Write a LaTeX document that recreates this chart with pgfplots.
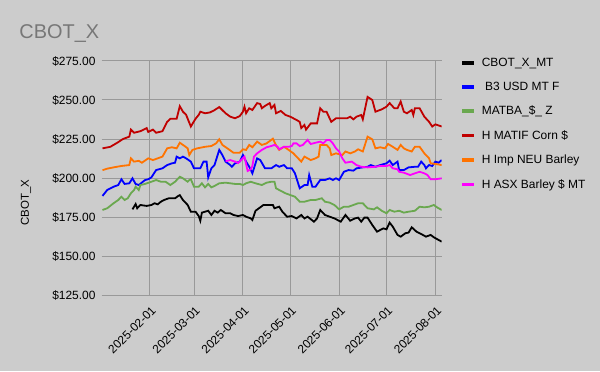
\documentclass[border=0pt]{standalone}
\usepackage{pgfplots}
\pgfplotsset{compat=1.18}
\usepackage{fontspec}
\setmainfont{Liberation Sans}
\definecolor{bg}{HTML}{CCCCCC}
\definecolor{titlegray}{HTML}{777777}
\definecolor{gridgray}{HTML}{999999}
\definecolor{sblue}{HTML}{0000FF}
\definecolor{sgreen}{HTML}{6AA84F}
\definecolor{sred}{HTML}{C00000}
\definecolor{sorange}{HTML}{FF7300}
\definecolor{smag}{HTML}{FF00FF}
\begin{document}
\begin{tikzpicture}[x=1bp,y=1bp]
\fill[bg] (0,0) rectangle (600,371);
\path[use as bounding box] (0,0) rectangle (600,371);
\node[anchor=base west, inner sep=0pt, text=titlegray, font=\fontsize{20}{24}\selectfont] at (19.3,332.7) {CBOT\_X};
\begin{axis}[
  at={(101.7bp,76bp)}, anchor=south west,
  scale only axis, width=340bp, height=234bp,
  xmin=0.5, xmax=216, ymin=125, ymax=275,
  axis line style={draw=none},
  major tick length=0pt,
  grid=major,
  grid style={color=gridgray, line width=1bp},
  xtick={31,59,90,120,151,181,212},
  xticklabels={2025-02-01,2025-03-01,2025-04-01,2025-05-01,2025-06-01,2025-07-01,2025-08-01},
  ytick={125,150,175,200,225,250,275},
  yticklabels={\$125.00,\$150.00,\$175.00,\$200.00,\$225.00,\$250.00,\$275.00},
  xticklabel style={xshift=3.9bp, yshift=-13.3bp, rotate=45, anchor=east, inner sep=0pt, font=\fontsize{12}{14}\selectfont},
  yticklabel style={anchor=east, inner sep=0pt, xshift=-6bp, font=\fontsize{12}{14}\selectfont},
  ylabel={CBOT\_X},
  ylabel style={at={(axis description cs:-0.2226,0.394)}, anchor=center, font=\fontsize{11.5}{13}\selectfont},
  legend style={at={(axis description cs:1.0553,1.0142)}, anchor=north west, draw=none, fill=none,
    font=\fontsize{12}{14}\selectfont, inner sep=0pt, row sep=14.2bp, column sep=6bp,
    nodes={inner sep=0pt}},
  legend cell align=left,
  legend image code/.code={\draw[line width=3.5bp] (0bp,0bp) -- (11.6bp,0bp);},
]
% CBOT_X_MT
\addplot[black, line width=1.8bp] coordinates {
(20,179.9)(22,183.3)(23,180.6)(25,182.7)(29,182.1)(32,182.7)(34,183.8)(36,183.1)(38,184.8)(40,185.9)(43,187)(47,187)(49,188.5)(50,189)(52,185.9)(55,182.7)(57,178.4)(60,178.4)(62,175.6)(63,172.6)(64,177.8)(66,178.4)(68,179)(70,176.3)(72,179)(74,177.8)(76,179.5)(79,177.4)(82,177.4)(84,176.3)(87,175.6)(90,176.3)(92,175.2)(95,174.1)(96,173.1)(98,179)(101,181.2)(103,182.7)(106,182.7)(109,182.7)(110,180.6)(113,181.6)(115,178.4)(118,175.2)(121,175.6)(124,174.1)(127,176.3)(129,174.1)(131,175.2)(135,172)(137,174.1)(139,179.5)(142,176.3)(145,175.2)(148,174.1)(152,172)(155,176.3)(158,172.6)(161,174.1)(163,174.6)(165,172)(167,174.6)(169,174.6)(172,169.9)(175,165.6)(179,167.7)(181,167.1)(183,171.4)(185,168.8)(188,163.5)(190,162.4)(193,164.6)(195,165)(197,168.4)(200,165.6)(203,164.1)(206,162.4)(209,163.5)(211,162)(214,160.3)(216,159.2)
};
\addlegendentry{CBOT\_X\_MT}
% B3 USD MT F
\addplot[sblue, line width=1.8bp] coordinates {
(1,188.5)(4,192.3)(8,194.4)(11,195.5)(13,199.2)(15,196.2)(18,196.6)(20,199.8)(22,196.2)(24,195.5)(28,198.7)(30,199.2)(32,200.4)(35,205.1)(39,206.2)(42,208.3)(45,209.4)(47,209.8)(48,213.7)(50,212.6)(52,213.7)(54,212.6)(57,210.5)(59,206.2)(63,206.2)(65,210.5)(67,210.5)(68,200.4)(70,206.2)(72,208.3)(75,218)(77,214.7)(79,210.5)(82,208.3)(83,207.2)(85,209.4)(88,210.5)(90,214.7)(92,210.5)(94,207.2)(96,203)(99,212.6)(101,211.5)(104,206.2)(108,206.2)(111,208.3)(113,207.2)(116,208.3)(118,206.2)(121,206.2)(123,203)(126,193.4)(129,195.5)(131,195.5)(132,201.9)(134,194.4)(136,194.4)(139,198.7)(142,198.7)(145,199.8)(147,198.7)(149,199.8)(151,198.7)(154,204)(157,205.1)(160,204.7)(162,206.2)(166,206.8)(169,207.2)(171,208.3)(174,207.2)(177,208.3)(181,209.4)(183,211.1)(185,208.3)(188,210.5)(189,205.1)(192,205.1)(195,206.8)(199,207.2)(201,207.2)(203,210.5)(205,208.3)(206,206.2)(208,208.3)(210,207.7)(212,210.5)(214,209.8)(216,211.5)
};
\addlegendentry{\hspace{3.3bp}B3 USD MT F}
% MATBA
\addplot[sgreen, line width=1.8bp] coordinates {
(1,179.5)(4,180.6)(8,183.8)(11,185.9)(13,188)(15,185.9)(17,187)(19,190.2)(21,192.3)(22,194.4)(24,192.3)(25,195.5)(28,196.2)(32,197.6)(35,198.7)(38,197.6)(41,197.6)(44,195.5)(47,197.6)(50,200.8)(52,199.8)(55,197.6)(56,198.7)(57,199.2)(59,194.4)(62,194.4)(64,196.6)(66,194)(68,196.2)(70,194)(72,194.9)(75,196.6)(79,197)(82,196.6)(85,196.2)(88,196.2)(90,195.5)(92,196.6)(95,197.6)(98,196.6)(102,195.5)(105,197)(108,197.6)(110,197.6)(111,193.4)(113,192.3)(117,190.2)(120,189.1)(123,188)(126,184.8)(129,184.8)(133,185.9)(136,185.9)(140,187)(142,184.8)(145,184.2)(148,182.7)(151,179.9)(154,181.6)(157,181.6)(160,182.7)(163,183.8)(166,183.8)(169,180.6)(173,179.9)(175,181.2)(178,179)(181,177.4)(183,179.5)(186,178.4)(189,179)(192,177.8)(195,178.4)(199,179)(202,181.6)(205,181.2)(208,181.6)(211,182.7)(213,181.2)(216,179.5)
};
\addlegendentry{MATBA\_\$\_ Z}
% H MATIF Corn
\addplot[sred, line width=1.8bp] coordinates {
(1,219)(6,220)(11,223)(14,225)(18,226.5)(19,231)(21,229)(25,230)(29,232)(30,229.5)(33,231)(35,229)(39,230)(42,236)(44,238)(48,238)(50,246)(52,242.5)(54,240.5)(57,233)(60,238)(62,240.5)(63,242.5)(66,241.5)(69,242)(72,243.5)(75,245.5)(79,241.5)(82,239.3)(85,238.3)(88,239.7)(90,242.5)(91,245.7)(92,241.5)(94,244.7)(96,243.6)(99,248)(101,247.4)(102,244.7)(104,246.2)(107,248)(108,244.7)(110,246.8)(111,241.5)(114,243)(117,240.4)(120,239.3)(124,237.2)(126,236)(127,232)(129,234)(130,231)(133,235)(137,235)(139,244.7)(141,242.5)(143,242.5)(146,236)(149,238.3)(153,238.3)(156,238.3)(158,239.3)(160,237.6)(162,239.3)(165,240.4)(166,237.6)(169,252)(172,250)(174,242.5)(178,244)(181,245.7)(183,248)(186,244.7)(188,244.7)(190,249)(192,242.5)(194,241.5)(197,243.6)(198,240.4)(199,244.7)(202,244.7)(205,239.3)(208,236)(210,233)(212,234.4)(216,233)
};
\addlegendentry{H MATIF Corn \$}
% H Imp NEU Barley
\addplot[sorange, line width=1.8bp] coordinates {
(1,205)(4,206)(9,207)(13,207.7)(18,208.3)(19,212.6)(21,210.5)(24,211)(26,209.8)(30,212.6)(33,211.5)(36,212.6)(39,213.7)(42,219)(45,219.7)(48,219)(50,222.6)(53,220.5)(55,219)(56,214.7)(58,218)(61,219)(66,220)(70,220.5)(73,222.2)(75,224.8)(77,221.2)(81,218.4)(84,216.2)(88,216.2)(90,218.4)(92,218)(94,221.2)(96,219.7)(99,223.3)(102,221.2)(105,222.2)(109,225.2)(111,221)(113,218)(116,220)(119,218)(122,215.8)(125,212.6)(127,210.5)(129,213.7)(133,211.5)(136,212.6)(138,213.7)(139,221.2)(143,221.2)(145,219)(146,214.7)(149,215.8)(153,214.7)(155,217)(158,215.8)(161,217)(163,218.4)(166,217)(169,226.5)(172,224.8)(174,219)(177,219.7)(180,219)(182,221.8)(185,220)(188,218)(190,221.2)(192,219)(194,218)(197,217)(199,220)(202,220)(205,215.8)(208,212.6)(209,209.4)(212,209)(216,208.3)
};
\addlegendentry{H Imp NEU Barley}
% H ASX Barley
\addplot[smag, line width=1.8bp] coordinates {
(79,210.7)(82,211.5)(85,210.5)(87,209.6)(90,212.6)(91,213.7)(93,204.5)(95,205.6)(96,207.7)(97,213.7)(99,215.8)(102,218)(105,219.7)(108,220.5)(110,221.2)(112,220)(113,218.4)(116,220)(119,220)(121,220.5)(122,222.2)(124,222.2)(126,220.5)(128,221.2)(131,224.4)(133,221.8)(136,222.6)(139,223.3)(141,222.2)(143,224.4)(145,224.4)(147,222.2)(149,219)(151,217)(153,212.6)(155,209.8)(159,210.5)(162,208.3)(165,207.2)(169,206.8)(174,207.2)(177,207.7)(181,207.7)(183,208.3)(185,206.2)(188,205.6)(189,204)(192,203.4)(196,201.9)(199,203)(202,204)(205,203)(207,201.9)(209,199.2)(212,199.2)(216,199.8)
};
\addlegendentry{H ASX Barley \$ MT}
\end{axis}
\end{tikzpicture}
\end{document}
